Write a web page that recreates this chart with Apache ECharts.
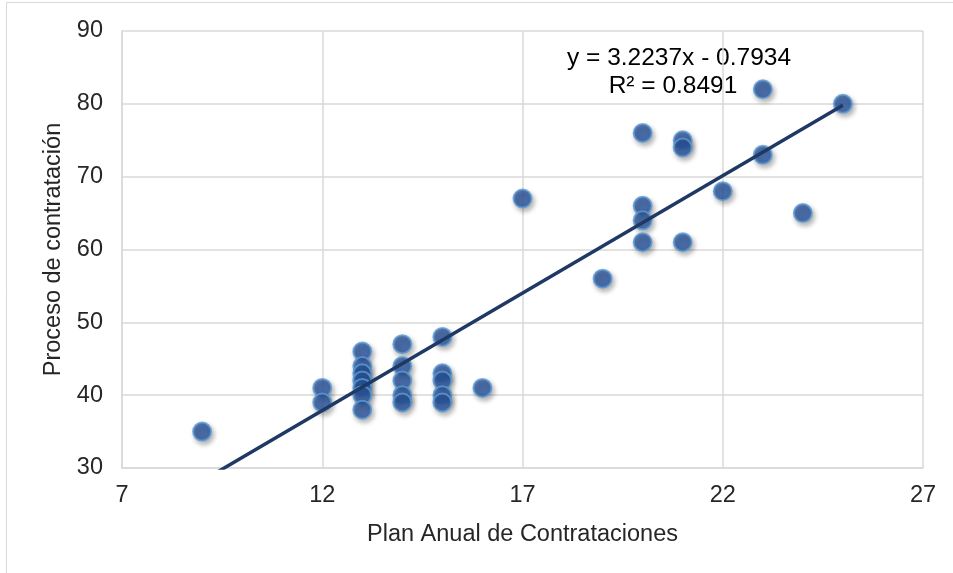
<!DOCTYPE html>
<html>
<head>
<meta charset="utf-8">
<script src="https://cdn.jsdelivr.net/npm/echarts@6/dist/echarts.min.js"></script>
<style>
  html, body { margin: 0; padding: 0; background: #fff; }
  #chart { width: 953px; height: 573px; }
</style>
</head>
<body>
<div id="chart"></div>
<script>
// Plan Anual de Contrataciones (x) vs Proceso de contratación (y)
const planAnual = [
  9,
  12, 12,
  13, 13, 13, 13, 13, 13, 13,
  14, 14, 14, 14, 14,
  15, 15, 15, 15, 15,
  16, 17, 19,
  20, 20, 20, 20,
  21, 21, 21,
  22, 23, 23, 24, 25
];
const procesoContratacion = [
  35,
  41, 39,
  46, 44, 43, 42, 41, 40, 38,
  47, 44, 42, 40, 39,
  48, 43, 42, 40, 39,
  41, 67, 56,
  76, 66, 64, 61,
  75, 74, 61,
  68, 82, 73, 65, 80
];

// Linear trend line coefficients and fit quality
const slope = 3.2237;
const intercept = -0.7934;
const rSquared = 0.8491;

// Axis ranges and tick steps
const xTicks = [7, 12, 17, 22, 27];
const yTicks = [30, 40, 50, 60, 70, 80, 90];

const points = planAnual.map((x, i) => [x, procesoContratacion[i]]);
const xMinData = Math.min(...planAnual);
const xMaxData = Math.max(...planAnual);
const trend = [xMinData, xMaxData].map(x => [x, slope * x + intercept]);

const fmt = v => v.toFixed(4);
const eqText = 'y = ' + fmt(slope) + 'x ' + (intercept < 0 ? '- ' : '+ ') + fmt(Math.abs(intercept));
const r2Text = 'R² = ' + fmt(rSquared);

const FONT = 'Arial, "Liberation Sans", sans-serif';
const TXT = '#262626';

const chart = echarts.init(document.getElementById('chart'), null, { renderer: 'canvas' });
chart.setOption({
  animation: false,
  backgroundColor: '#ffffff',
  grid: { left: 122, right: 30, top: 31, bottom: 105, containLabel: false },
  xAxis: {
    type: 'value',
    min: xTicks[0],
    max: xTicks[xTicks.length - 1],
    interval: xTicks[1] - xTicks[0],
    name: 'Plan Anual de Contrataciones',
    nameLocation: 'middle',
    nameGap: 55,
    nameTextStyle: { fontFamily: FONT, fontSize: 23.5, color: TXT },
    axisLine: { show: true, lineStyle: { color: '#d9d9d9', width: 1.5 } },
    axisTick: { show: false },
    axisLabel: { fontFamily: FONT, fontSize: 23.5, color: TXT, margin: 16 },
    splitLine: { show: true, lineStyle: { color: '#d9d9d9', width: 1.5 } }
  },
  yAxis: {
    type: 'value',
    min: yTicks[0],
    max: yTicks[yTicks.length - 1],
    interval: yTicks[1] - yTicks[0],
    name: 'Proceso de contratación',
    nameLocation: 'middle',
    nameGap: 47,
    nameTextStyle: { fontFamily: FONT, fontSize: 23.5, color: TXT },
    axisLine: { show: true, lineStyle: { color: '#d9d9d9', width: 1.5 } },
    axisTick: { show: false },
    axisLabel: { fontFamily: FONT, fontSize: 23.5, color: TXT, margin: 19 },
    splitLine: { show: true, lineStyle: { color: '#d9d9d9', width: 1.5 } }
  },
  series: [
    {
      type: 'scatter',
      data: points,
      symbol: 'circle',
      symbolSize: 18,
      itemStyle: {
        color: '#2a56a0',
        borderColor: '#5b9bd5',
        borderWidth: 2,
        shadowBlur: 5,
        shadowOffsetX: 2,
        shadowOffsetY: 3,
        shadowColor: 'rgba(0,0,0,0.35)'
      },
      z: 2
    },
    {
      type: 'line',
      data: trend,
      showSymbol: false,
      clip: true,
      lineStyle: { color: '#1f3864', width: 3.5 },
      z: 3
    }
  ],
  graphic: [
    {
      type: 'rect',
      shape: { x: 6.5, y: 2.5, width: 980, height: 620 },
      style: { fill: 'none', stroke: '#d9d9d9', lineWidth: 1 },
      silent: true
    },
    {
      type: 'text',
      x: 679, y: 58,
      style: { text: eqText, fontFamily: FONT, fontSize: 24.5, fill: '#000', align: 'center', verticalAlign: 'middle' }
    },
    {
      type: 'text',
      x: 673, y: 86,
      style: { text: r2Text, fontFamily: FONT, fontSize: 24.5, fill: '#000', align: 'center', verticalAlign: 'middle' }
    }
  ]
});
</script>
</body>
</html>
